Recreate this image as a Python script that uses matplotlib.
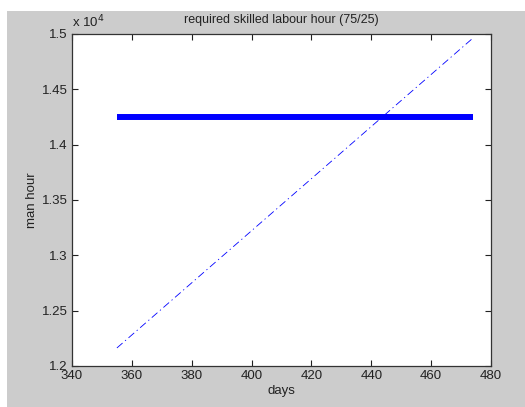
import matplotlib
matplotlib.use("Agg")
import matplotlib.pyplot as plt
from matplotlib.patches import Rectangle
from matplotlib.ticker import FuncFormatter

# data
req_days = [355, 474]
req_hours = [14250, 14250]
cum_days = [355, 474]
cum_hours = [12163, 14964]

title = "required skilled labour hour (75/25)"
xlabel = "days"
ylabel = "man hour"
xticks = [340, 360, 380, 400, 420, 440, 460, 480]
yticks = [12000, 12500, 13000, 13500, 14000, 14500, 15000]

plt.rcParams['font.family'] = ['Liberation Sans', 'DejaVu Sans']
W, H = 525, 407
fig = plt.figure(figsize=(W / 100, H / 100), dpi=100)
fig.patch.set_facecolor('white')
fig.patches.append(Rectangle((7 / W, 0), 1 - 7 / W, 1 - 11 / H, transform=fig.transFigure,
                             facecolor='#cccccc', edgecolor='none', zorder=-10))

ax = fig.add_axes([72 / W, 1 - 366 / H, (491 - 72) / W, (366 - 34) / H])
ax.set_facecolor('white')
ax.plot(req_days, req_hours, color='#0000ff', lw=4.3, solid_capstyle='butt')
ax.plot(cum_days, cum_hours, color='#0000ff', lw=0.6, dashes=(9, 4, 1.5, 4))

ax.set_xlim(340, 480)
ax.set_ylim(12000, 15000)
ax.set_xticks(xticks)
ax.set_yticks(yticks)
ax.yaxis.set_major_formatter(FuncFormatter(lambda v, p: f"{v / 1e4:g}"))
ax.tick_params(direction='in', length=4, width=0.8, top=True, right=True,
               labelsize=9.5, colors='#222222', pad=3)
for s in ax.spines.values():
    s.set_color('#333333')
    s.set_linewidth(0.9)

ax.set_title(title, fontsize=9, color='#222222', pad=8)
ax.set_xlabel(xlabel, fontsize=9.5, color='#222222', labelpad=2)
ax.set_ylabel(ylabel, fontsize=9.5, color='#222222', labelpad=3)
ax.text(0, 1.012, r"x 10$^4$", transform=ax.transAxes, fontsize=9.5, color='#222222',
        ha='left', va='bottom')

fig.savefig("out.png", dpi=100, facecolor=fig.get_facecolor())
